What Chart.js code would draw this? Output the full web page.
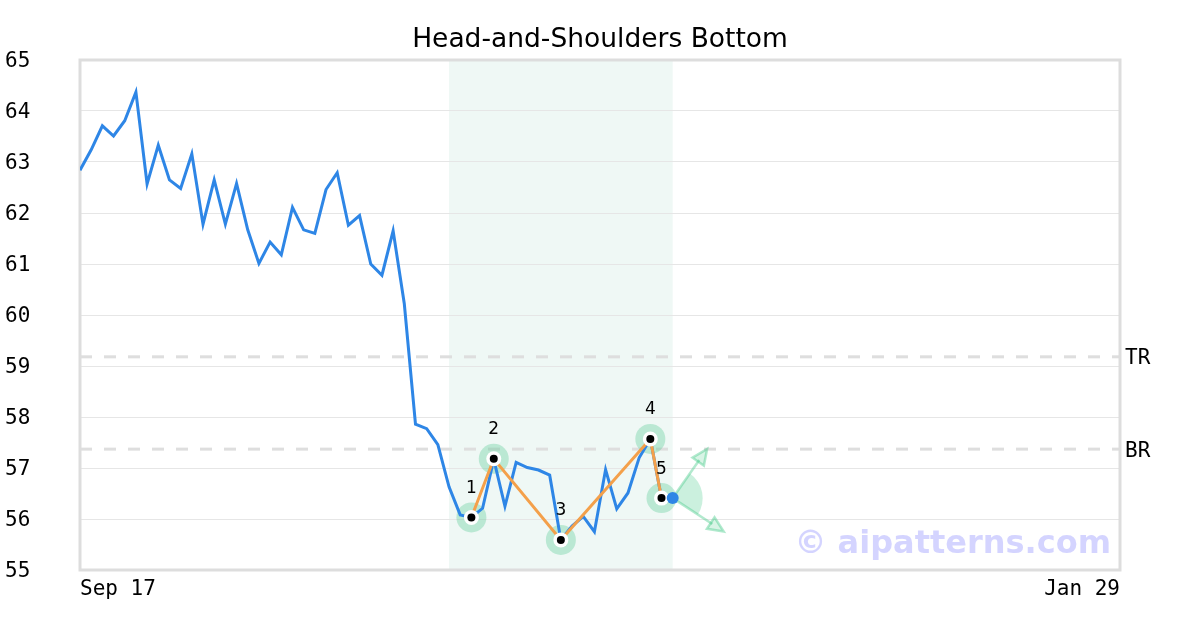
<!DOCTYPE html>
<html>
<head>
<meta charset="utf-8">
<script src="https://cdn.jsdelivr.net/npm/chart.js@4.4.0/dist/chart.umd.min.js"></script>
<style>
  html, body { margin: 0; padding: 0; background: #ffffff; }
  #wrap { width: 1200px; height: 630px; }
</style>
</head>
<body>
<div id="wrap"><canvas id="chart" width="1200" height="630"></canvas></div>
<script>
// price series, one value per trading day starting Sep 17
const prices = [
  62.84, 63.24, 63.71, 63.51, 63.81, 64.37, 62.57, 63.33, 62.65, 62.48,
  63.16, 61.78, 62.65, 61.78, 62.58, 61.67, 61.01, 61.43, 61.18, 62.11,
  61.67, 61.60, 62.46, 62.79, 61.76, 61.95, 61.00, 60.78, 61.65, 60.22,
  57.86, 57.77, 57.46, 56.63, 56.08, 56.03, 56.21, 57.17, 56.25, 57.11,
  57.01, 56.96, 56.86, 55.59, 55.86, 56.05, 55.75, 56.97, 56.20, 56.51,
  57.20, 57.57, 56.41, 56.41,
];

// pattern pivots (index into prices) and their labels
const pivotIndex = [35, 37, 43, 51, 52];
const pivotValue = [56.03, 57.18, 55.59, 57.57, 56.41];
const pivotLabels = ["1", "2", "3", "4", "5"];

// last close marker
const lastIndex = 53;
const lastValue = 56.41;

// pattern window and resistance levels
const zoneStart = 33;
const zoneEnd = 53;
const levelNames = ["TR", "BR"];
const levelValues = [59.18, 57.37];

// axes
const xMax = 93;
const xTickValues = [0, 93];
const xTickLabels = ["Sep 17", "Jan 29"];
const yMin = 55;
const yMax = 65;

const title = "Head-and-Shoulders Bottom";

const palette = {
  blue: "#2e86e6",
  orange: "#f4a04a",
  halo: "rgba(62, 196, 132, 0.30)",
  zone: "#eff8f5",
  grid: "#e6e6e6",
  border: "#dddddd",
  dash: "#dedede",
  arrow: "rgba(62, 200, 132, 0.40)",
  wedge: "rgba(62, 200, 132, 0.27)",
  watermark: "rgba(120, 120, 255, 0.32)",
};

const mono = "'DejaVu Sans Mono', monospace";
const sans = "'DejaVu Sans', sans-serif";

const linePoints = prices.map((value, index) => ({ x: index, y: value }));
const pivotPoints = pivotIndex.map((index, i) => ({ x: index, y: pivotValue[i] }));

function drawArrow(ctx, x0, y0, x1, y1) {
  const angle = Math.atan2(y1 - y0, x1 - x0);
  const head = 17;
  const spread = 0.42;
  ctx.beginPath();
  ctx.moveTo(x0, y0);
  ctx.lineTo(x1 - Math.cos(angle) * head * 0.8, y1 - Math.sin(angle) * head * 0.8);
  ctx.stroke();
  ctx.beginPath();
  ctx.moveTo(x1, y1);
  ctx.lineTo(x1 - head * Math.cos(angle - spread), y1 - head * Math.sin(angle - spread));
  ctx.lineTo(x1 - head * Math.cos(angle + spread), y1 - head * Math.sin(angle + spread));
  ctx.closePath();
  ctx.fill();
  ctx.stroke();
}

const backdrop = {
  id: "backdrop",
  beforeDraw(chart) {
    const { ctx, chartArea, scales } = chart;
    const left = scales.x.getPixelForValue(zoneStart);
    const right = scales.x.getPixelForValue(zoneEnd);
    ctx.save();
    ctx.fillStyle = palette.zone;
    ctx.fillRect(left, chartArea.top, right - left, chartArea.bottom - chartArea.top);
    ctx.fillStyle = "#000";
    ctx.font = `26.5px ${sans}`;
    ctx.textAlign = "center";
    ctx.textBaseline = "middle";
    ctx.fillText(title, chart.width / 2, 40);
    ctx.restore();
  },
  beforeDatasetsDraw(chart) {
    const { ctx, chartArea, scales } = chart;
    ctx.save();
    ctx.strokeStyle = palette.dash;
    ctx.lineWidth = 3;
    ctx.setLineDash([12, 12]);
    ctx.fillStyle = "#000";
    ctx.font = `21px ${mono}`;
    ctx.textBaseline = "middle";
    levelValues.forEach((value, i) => {
      const y = scales.y.getPixelForValue(value);
      ctx.beginPath();
      ctx.moveTo(chartArea.left, y);
      ctx.lineTo(chartArea.right, y);
      ctx.stroke();
      ctx.fillText(levelNames[i], chartArea.right + 5, y + 2);
    });
    ctx.setLineDash([]);
    ctx.strokeStyle = palette.border;
    ctx.lineWidth = 3;
    ctx.strokeRect(chartArea.left, chartArea.top, chartArea.right - chartArea.left, chartArea.bottom - chartArea.top);

    // watermark
    ctx.font = `bold 32px ${sans}`;
    ctx.fillStyle = palette.watermark;
    ctx.textAlign = "right";
    ctx.textBaseline = "alphabetic";
    ctx.fillText("© aipatterns.com", chartArea.right - 9, chartArea.bottom - 17);
    ctx.restore();
  },
  afterDatasetsDraw(chart) {
    const { ctx, scales } = chart;
    ctx.save();
    // pivot numbers
    ctx.font = `17px ${sans}`;
    ctx.fillStyle = "#000";
    ctx.textAlign = "center";
    ctx.textBaseline = "middle";
    pivotPoints.forEach((point, i) => {
      const x = scales.x.getPixelForValue(point.x);
      const y = scales.y.getPixelForValue(point.y);
      ctx.fillText(pivotLabels[i], x, y - 29);
    });

    // breakout projection from the last close
    const cx = scales.x.getPixelForValue(lastIndex);
    const cy = scales.y.getPixelForValue(lastValue);
    const upAngle = -0.96;
    const downAngle = 0.58;
    ctx.fillStyle = palette.wedge;
    ctx.beginPath();
    ctx.moveTo(cx, cy);
    ctx.arc(cx, cy, 30, upAngle, downAngle);
    ctx.closePath();
    ctx.fill();
    ctx.strokeStyle = palette.arrow;
    ctx.fillStyle = "rgba(62, 200, 132, 0.2)";
    ctx.lineWidth = 2.5;
    drawArrow(ctx, cx, cy, cx + 60 * Math.cos(upAngle), cy + 60 * Math.sin(upAngle));
    drawArrow(ctx, cx, cy, cx + 61 * Math.cos(downAngle), cy + 61 * Math.sin(downAngle));

    // last close dot on top
    ctx.fillStyle = palette.blue;
    ctx.beginPath();
    ctx.arc(cx, cy, 6, 0, Math.PI * 2);
    ctx.fill();
    ctx.restore();
  },
};

new Chart(document.querySelector("#chart"), {
  type: "scatter",
  data: {
    datasets: [
      {
        label: "Pivot core",
        data: pivotPoints,
        pointRadius: 4,
        pointBackgroundColor: "#000",
        pointBorderWidth: 0,
        showLine: false,
        order: 1,
      },
      {
        label: "Pivot ring",
        data: pivotPoints,
        pointRadius: 7.5,
        pointBackgroundColor: "#fff",
        pointBorderWidth: 0,
        showLine: false,
        order: 2,
      },
      {
        label: "Pattern",
        data: pivotPoints,
        showLine: true,
        borderColor: palette.orange,
        borderWidth: 3,
        pointRadius: 0,
        order: 3,
      },
      {
        label: "Price",
        data: linePoints,
        showLine: true,
        borderColor: palette.blue,
        borderWidth: 3,
        pointRadius: 0,
        order: 4,
      },
      {
        label: "Pivot halo",
        data: pivotPoints,
        pointRadius: 15,
        pointBackgroundColor: palette.halo,
        pointBorderWidth: 0,
        showLine: false,
        order: 5,
      },
    ],
  },
  options: {
    responsive: false,
    animation: false,
    events: [],
    layout: { padding: { left: 5, right: 80, top: 60, bottom: 20 } },
    plugins: {
      legend: { display: false },
      tooltip: { enabled: false },
      title: { display: false },
    },
    scales: {
      x: {
        type: "linear",
        min: 0,
        max: xMax,
        grid: { display: false, drawTicks: false },
        border: { display: false },
        afterBuildTicks: (scale) => {
          scale.ticks = xTickValues.map((value) => ({ value }));
        },
        afterFit: (scale) => { scale.height = 40; },
        ticks: {
          align: "inner",
          maxRotation: 0,
          autoSkip: false,
          padding: 7,
          color: "#000",
          font: { family: mono, size: 21 },
          callback: (value) => xTickLabels[xTickValues.indexOf(value)] ?? "",
        },
      },
      y: {
        min: yMin,
        max: yMax,
        grid: { color: palette.grid, lineWidth: 1, drawTicks: false },
        border: { display: false },
        afterFit: (scale) => { scale.width = 75; },
        ticks: {
          stepSize: 1,
          crossAlign: "far",
          padding: 0,
          labelOffset: 2,
          color: "#000",
          font: { family: mono, size: 21 },
        },
      },
    },
  },
  plugins: [backdrop],
});
</script>
</body>
</html>
